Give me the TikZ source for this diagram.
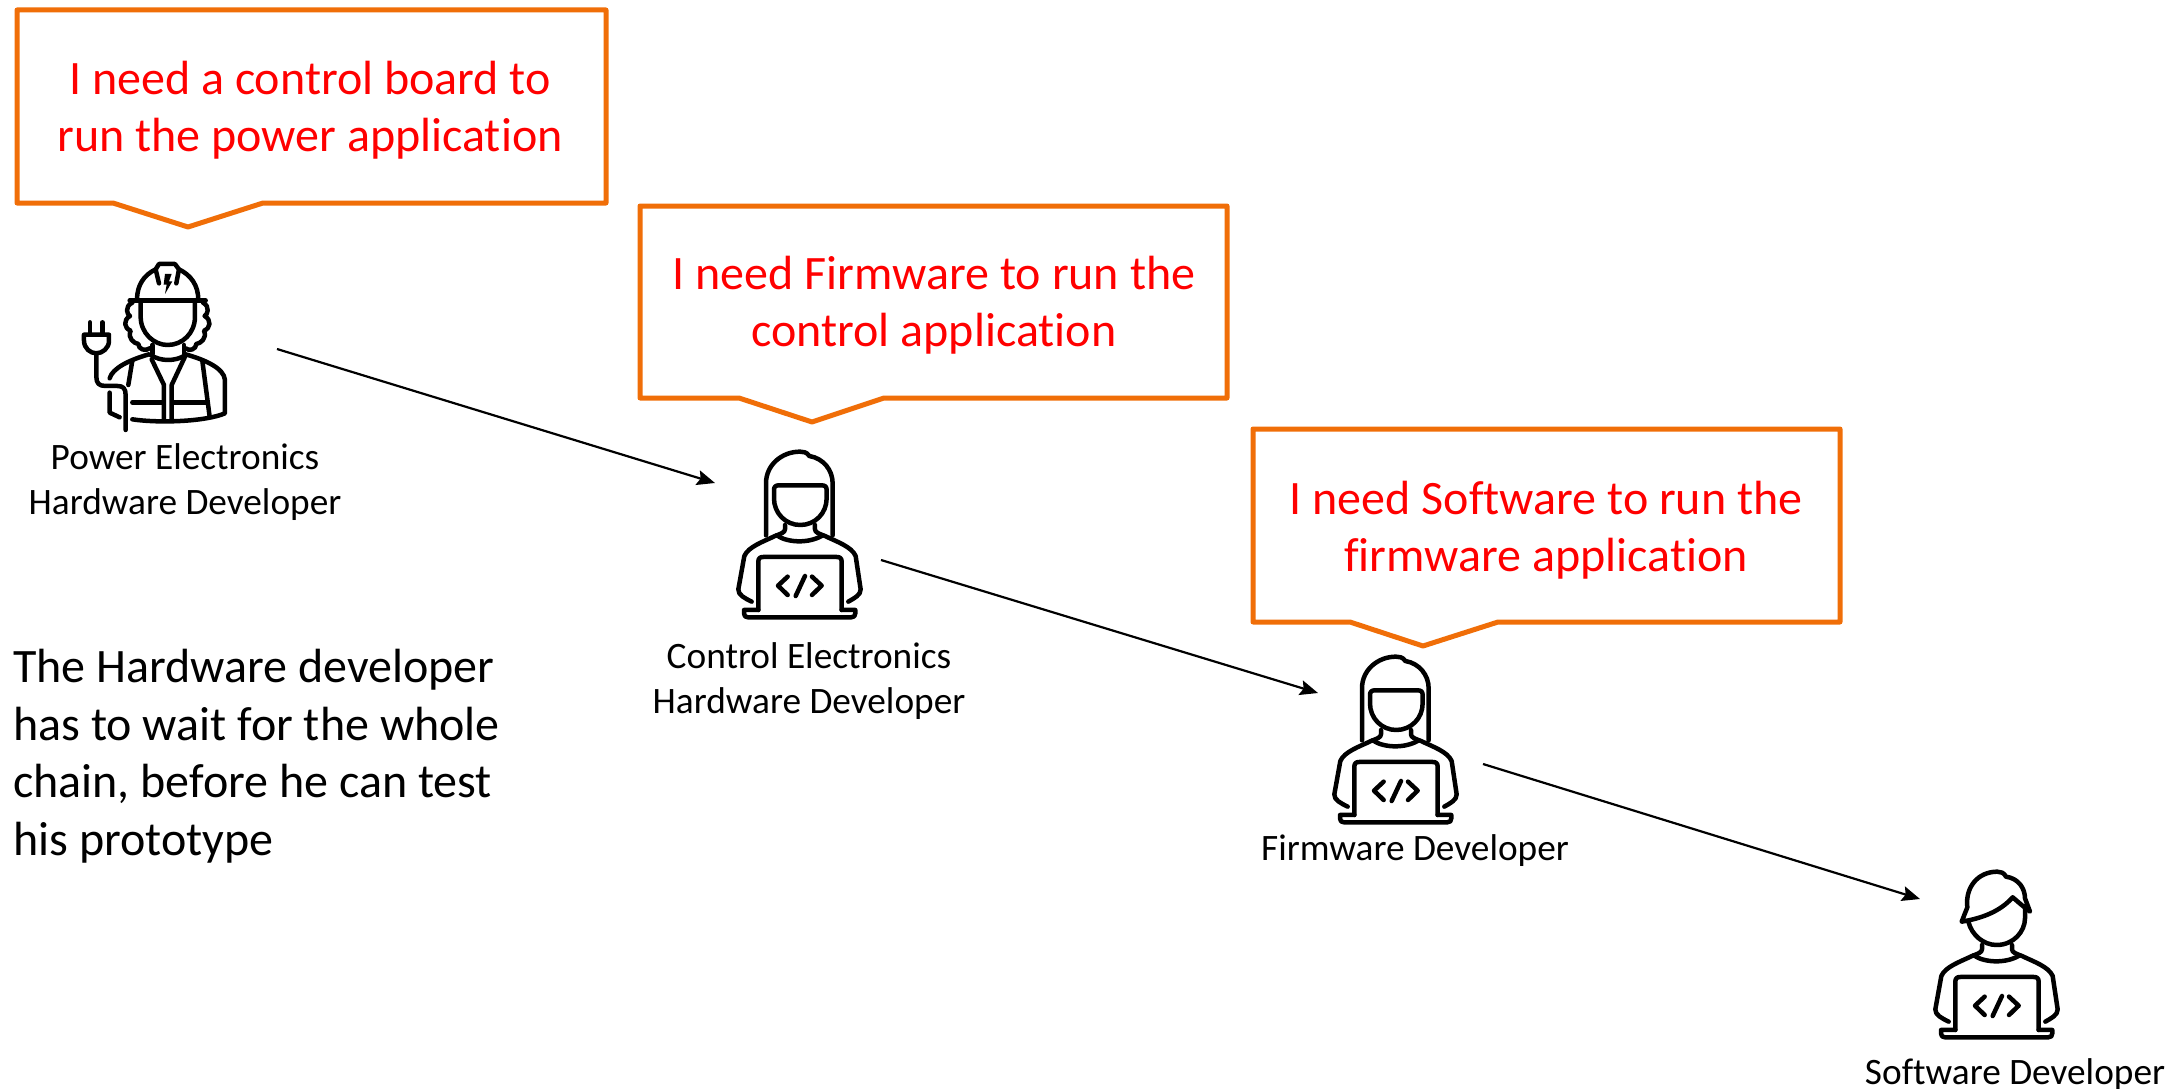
\documentclass[tikz,border=0pt]{standalone}
\usepackage{fontspec}
\setmainfont[Ligatures=NoCommon]{Carlito}
\usetikzlibrary{arrows.meta}
\definecolor{calloutorange}{RGB}{240,110,8}
\tikzset{
  x=1pt,y=-1pt,
  balloon/.style={draw=calloutorange,line width=5pt,fill=white,line join=round},
  saytext/.style={text=red,font=\fontsize{48}{57}\selectfont,align=center,anchor=center,inner sep=0pt},
  rolelabel/.style={text=black,font=\fontsize{37.3}{44.5}\selectfont,align=center,anchor=center,inner sep=0pt},
  notetext/.style={text=black,font=\fontsize{48}{57.5}\selectfont,align=left,anchor=north west,inner sep=0pt},
  link/.style={draw=black,line width=2.2pt,-{Stealth[length=18pt,width=15pt,inset=3pt]}},
  iconline/.style={line width=4.5pt,line cap=round,line join=round},
  coderbody/.pic={
    % neck, collar, shoulders
    \draw[iconline] (225,285) -- (225,298) .. controls (225,308) and (210,312) .. (195,318)
       .. controls (160,335) and (115,350) .. (103,378) -- (85,478) .. controls (84,495) and (105,505) .. (125,515);
    \draw[iconline] (315,285) -- (315,298) .. controls (315,308) and (330,312) .. (345,318)
       .. controls (380,335) and (425,350) .. (437,378) -- (452,478) .. controls (453,495) and (432,505) .. (415,515);
    \draw[iconline] (200,316) .. controls (235,340) and (300,340) .. (338,316);
    % laptop
    \draw[iconline] (145,540) -- (145,395) .. controls (145,385) and (150,381) .. (160,381) -- (380,381)
       .. controls (390,381) and (395,385) .. (395,395) -- (395,540);
    \draw[iconline] (145,540) -- (102,540) -- (102,550) .. controls (102,558) and (106,562) .. (114,562) -- (424,562)
       .. controls (432,562) and (436,558) .. (436,550) -- (436,540) -- (395,540);
    % code
    \draw[iconline] (233,440) -- (204,467) -- (233,495);
    \draw[iconline] (285,438) -- (257,498);
    \draw[iconline] (306,440) -- (335,467) -- (306,495);
  },
  femalecoder/.pic={
    \pic {coderbody};
    \draw[iconline] (168,316) -- (168,160) .. controls (168,105) and (215,65) .. (270,65)
       .. controls (280,65) and (290,66) .. (298,78) .. controls (340,85) and (368,120) .. (368,160) -- (368,316);
    \draw[iconline] (192,180) .. controls (192,170) and (197,166) .. (207,166) -- (335,166)
       .. controls (345,166) and (350,170) .. (350,180) -- (350,205)
       .. controls (350,250) and (315,285) .. (271,285) .. controls (227,285) and (192,250) .. (192,205) -- cycle;
  },
  malecoder/.pic={
    \pic[xshift=-3pt] {coderbody};
    \draw[iconline] (155,215) -- (172,172) .. controls (165,110) and (205,65) .. (262,65)
       .. controls (272,65) and (282,68) .. (288,80) .. controls (325,85) and (345,115) .. (345,145) -- (360,185)
       -- (335,165) -- (308,142) .. controls (270,185) and (215,205) .. (155,215) -- cycle;
    \draw[iconline] (175,215) .. controls (185,255) and (220,285) .. (260,285)
       .. controls (310,285) and (345,245) .. (345,205) -- (345,175);
  },
  engineer/.pic={
    % helmet
    \draw[iconline] (264,180) .. controls (264,135) and (285,105) .. (320,88) -- (330,72) -- (378,72) -- (390,88)
       .. controls (425,105) and (448,135) .. (448,180);
    \draw[iconline] (242,182) -- (470,182);
    \draw[iconline] (320,88) -- (330,130);
    \draw[iconline] (390,88) -- (382,130);
    \fill (348,102) -- (368,102) -- (360,124) -- (370,124) -- (348,162) -- (353,134) -- (344,134) -- cycle;
    % face
    \draw[iconline] (275,186) -- (275,230) .. controls (275,280) and (315,315) .. (356,315)
       .. controls (400,315) and (438,280) .. (438,230) -- (438,186);
    % hair
    \draw[iconline] (250,188) .. controls (225,200) and (235,225) .. (243,228) .. controls (222,240) and (225,265) .. (245,272)
       .. controls (235,295) and (255,310) .. (268,312) .. controls (268,328) and (290,335) .. (302,325);
    \draw[iconline] (462,188) .. controls (485,200) and (475,225) .. (467,228) .. controls (488,240) and (485,265) .. (465,272)
       .. controls (475,295) and (455,310) .. (442,312) .. controls (442,328) and (420,335) .. (410,325);
    % neck, collar
    \draw[iconline] (310,315) -- (310,342);
    \draw[iconline] (405,315) -- (405,342);
    \draw[iconline] (305,345) .. controls (335,365) and (380,365) .. (410,345);
    % shoulders and hem
    \draw[iconline] (182,415) .. controls (190,385) and (240,360) .. (300,343);
    \draw[iconline] (410,343) .. controls (470,360) and (525,385) .. (528,420) -- (528,520)
       .. controls (470,545) and (330,550) .. (250,538);
    \draw[iconline] (182,458) -- (182,518) -- (212,532);
    % vest
    \draw[iconline] (308,358) -- (345,435) -- (345,540);
    \draw[iconline] (408,350) -- (368,435) -- (368,540);
    \draw[iconline] (250,362) -- (238,435);
    \draw[iconline] (460,362) -- (482,530);
    \draw[iconline] (250,487) -- (342,487);
    \draw[iconline] (372,487) -- (475,487);
    % plug and cable
    \draw[iconline] (123,247) -- (123,282);
    \draw[iconline] (160,247) -- (160,282);
    \draw[iconline] (105,284) -- (180,284) -- (180,302) .. controls (180,325) and (160,340) .. (142,340)
       .. controls (124,340) and (105,325) .. (105,302) -- cycle;
    \draw[iconline] (142,340) -- (142,410) .. controls (142,430) and (150,438) .. (170,438) -- (205,438)
       .. controls (222,438) and (230,445) .. (230,465) -- (230,570);
  }
}
\begin{document}
\begin{tikzpicture}
\useasboundingbox (0,0) rectangle (2169,1089);
% callouts
\draw[balloon] (17,10) -- (606,10) -- (606,203) -- (263,203) -- (188,227) -- (113,203) -- (17,203) -- cycle;
\draw[balloon] (640,206) -- (1227,206) -- (1227,398) -- (884,398) -- (812,422) -- (739,398) -- (640,398) -- cycle;
\draw[balloon] (1253,429) -- (1840,429) -- (1840,622) -- (1498,622) -- (1423,646) -- (1350,622) -- (1253,622) -- cycle;
\node[saytext] (say1) at (310,110) {I need a control board to\\run the power application};
\node[saytext] (say2) at (934,305) {I need Firmware to run the\\control application};
\node[saytext] (say3) at (1546,530) {I need Software to run the\\firmware application};
% icons
\begin{scope}[shift={(49,240)},x=0.3333pt,y=-0.3333pt]
  \pic {engineer};
\end{scope}
\begin{scope}[shift={(710,430)},x=0.3333pt,y=-0.3333pt]
  \pic {femalecoder};
\end{scope}
\begin{scope}[shift={(1306,635)},x=0.3333pt,y=-0.3333pt]
  \pic {femalecoder};
\end{scope}
\begin{scope}[shift={(1910,850)},x=0.3333pt,y=-0.3333pt]
  \pic {malecoder};
\end{scope}
% labels
\node[rolelabel] (power) at (185,482) {Power Electronics\\Hardware Developer};
\node[rolelabel] (control) at (809,681) {Control Electronics\\Hardware Developer};
\node[rolelabel] (firmware) at (1415,851) {Firmware Developer};
\node[rolelabel] (software) at (2015,1075) {Software Developer};
\node[notetext] (note) at (13,649) {The Hardware developer\\has to wait for the whole\\chain, before he can test\\his prototype};
% connectors
\coordinate (powerout) at (277,349);
\coordinate (controlin) at (715,483);
\coordinate (controlout) at (881,560);
\coordinate (firmwarein) at (1318,693);
\coordinate (firmwareout) at (1483,764);
\coordinate (softwarein) at (1920,899);
\draw[link] (powerout) -- (controlin);
\draw[link] (controlout) -- (firmwarein);
\draw[link] (firmwareout) -- (softwarein);
\end{tikzpicture}
\end{document}
